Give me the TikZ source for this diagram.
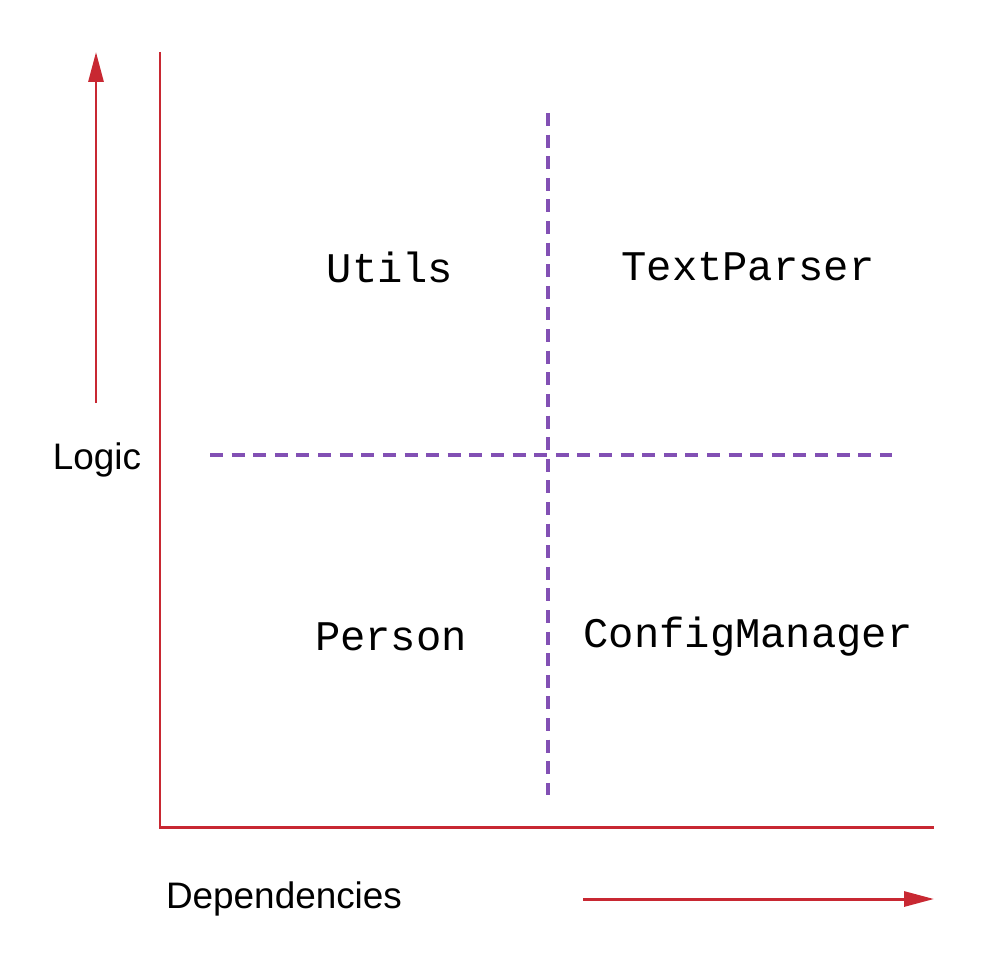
\documentclass[tikz,border=0pt]{standalone}
\usepackage{fontspec}
\setmainfont{Liberation Sans}
\newfontfamily\monofont{Liberation Mono}
\usetikzlibrary{arrows.meta}
\definecolor{axisred}{RGB}{200,40,50}
\definecolor{divpurple}{RGB}{130,80,180}
\tikzset{
  axisline/.style={draw=axisred, line width=1.7pt},
  axisarrow/.style={axisline, -{Triangle[length=17pt,width=8.5pt]}},
  divider/.style={draw=divpurple, line width=2.2pt, dash pattern=on 7.4pt off 4.9pt},
  classlbl/.style={font=\monofont\fontsize{24}{28}\selectfont, inner sep=0pt},
  axislbl/.style={font=\fontsize{21}{25}\selectfont, inner sep=0pt}
}
\begin{document}
\begin{tikzpicture}[x=0.02cm,y=-0.02cm]
\useasboundingbox (0,0) rectangle (989,966);
% axes
\coordinate (o) at (160,827);
\coordinate (ytop) at (160,52);
\coordinate (xend) at (934,827);
\draw[axisline] (ytop) -- (o) -- (xend);
% direction arrows
\coordinate (la) at (96,403);
\coordinate (lb) at (96,52);
\draw[axisarrow] (la) -- (lb);
\coordinate (da) at (583,899);
\coordinate (db) at (934,899);
\draw[axisarrow] (da) -- (db);
% dividers
\coordinate (vt) at (548,113);
\coordinate (vb) at (548,795);
\coordinate (hl) at (210,455);
\coordinate (hr) at (892,455);
\draw[divider] (vt) -- (vb);
\draw[divider] (hl) -- (hr);
% labels
\node[axislbl] (logic) at (97,460) {Logic};
\node[axislbl] (deps) at (284,899) {Dependencies};
\node[classlbl] (utils) at (390,267) {Utils};
\node[classlbl] (textparser) at (748,267) {TextParser};
\node[classlbl] (person) at (391,637) {Person};
\node[classlbl] (config) at (748,637) {ConfigManager};
\end{tikzpicture}
\end{document}
